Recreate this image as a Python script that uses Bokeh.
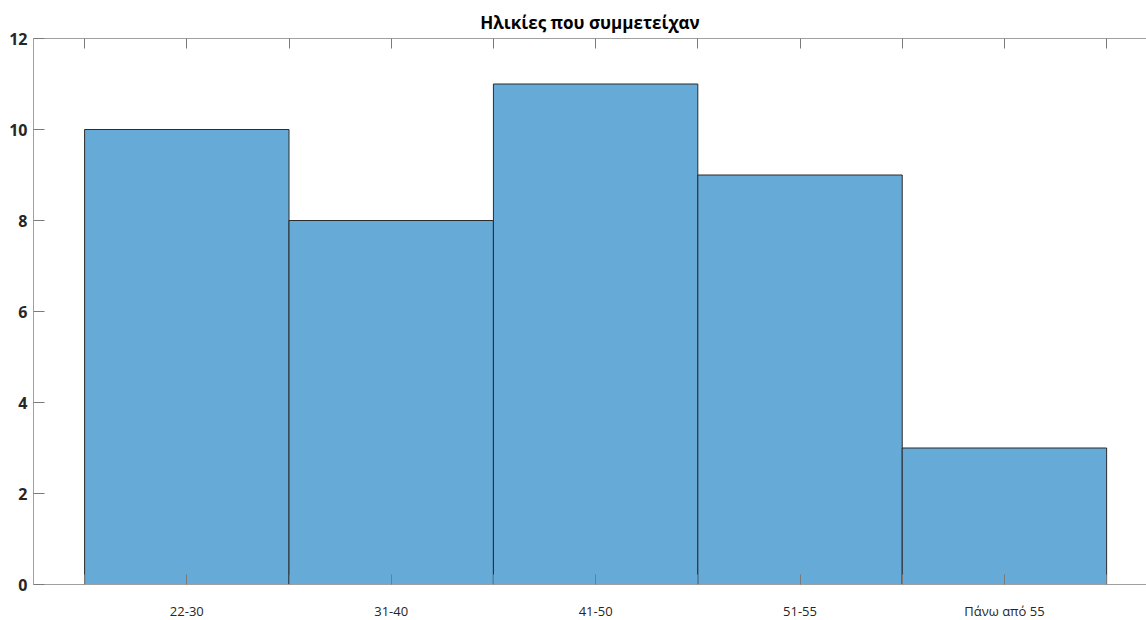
from bokeh.plotting import figure
from bokeh.models import (Range1d, LinearAxis, FixedTicker, ColumnDataSource)
from bokeh.embed import file_html
from bokeh.resources import INLINE

# Age groups of participants and their counts
age_groups = ["22-30", "31-40", "41-50", "51-55", "Πάνω από 55"]
counts = [10, 8, 11, 9, 3]
y_ticks = [0, 2, 4, 6, 8, 10, 12]

positions = list(range(1, len(age_groups) + 1))
src = ColumnDataSource(dict(x=positions, top=counts))

BAR_FILL = "#66AAD7"
AXIS_GRAY = "#a0a0a0"
TICK_GRAY = "#7a7a7a"
TEXT = "#262626"
FONT = "Open Sans"

p = figure(
    output_backend="svg", toolbar_location=None,
    frame_width=1113, frame_height=546,
    x_range=Range1d(0.25, 5.695), y_range=Range1d(0, 12),
    x_axis_location=None, y_axis_location=None,
    min_border_left=33, min_border_right=0, min_border_top=38, min_border_bottom=36,
    background_fill_color="white", border_fill_color="white",
    title="Ηλικίες που συμμετείχαν",
)
p.outline_line_color = None
p.xgrid.visible = False
p.ygrid.visible = False

p.title.align = "center"
p.title.text_font = FONT
p.title.text_font_style = "bold"
p.title.text_font_size = "17px"
p.title.text_color = "#000000"
p.title.standoff = 10
p.title.offset = 5

p.vbar(x="x", top="top", width=1.0, bottom=0, source=src,
       fill_color=BAR_FILL, line_color="#2b2b2b", line_width=1)

half_ticks = [0.5 + 0.5 * i for i in range(2 * len(age_groups) + 1)]
overrides = {}
for t in half_ticks:
    overrides[t] = ""
for pos, lab in zip(positions, age_groups):
    overrides[pos] = lab

# left axis
ya = LinearAxis(ticker=FixedTicker(ticks=y_ticks))
ya.axis_line_color = AXIS_GRAY
ya.major_tick_line_color = TICK_GRAY
ya.major_tick_in = 11
ya.major_tick_out = 0
ya.minor_tick_line_color = None
ya.major_label_standoff = 6
ya.major_label_text_font = FONT
ya.major_label_text_font_style = "bold"
ya.major_label_text_font_size = "16px"
ya.major_label_text_color = TEXT
p.add_layout(ya, "left")

# bottom axis
xa = LinearAxis(ticker=FixedTicker(ticks=half_ticks))
xa.major_label_overrides = overrides
xa.axis_line_color = AXIS_GRAY
xa.major_tick_line_color = TICK_GRAY
xa.major_tick_in = 10
xa.major_tick_out = 0
xa.minor_tick_line_color = None
xa.major_label_standoff = 17
xa.major_label_text_font = FONT
xa.major_label_text_font_size = "13px"
xa.major_label_text_color = TEXT
p.add_layout(xa, "below")

# top axis (ticks only)
ta = LinearAxis(ticker=FixedTicker(ticks=half_ticks))
ta.major_label_text_font_size = "0px"
ta.major_label_text_alpha = 0
ta.major_label_standoff = 0
ta.axis_line_color = AXIS_GRAY
ta.major_tick_line_color = TICK_GRAY
ta.major_tick_in = 10
ta.major_tick_out = 0
ta.minor_tick_line_color = None
p.add_layout(ta, "above")

open("out.html", "w").write(file_html(p, INLINE))
